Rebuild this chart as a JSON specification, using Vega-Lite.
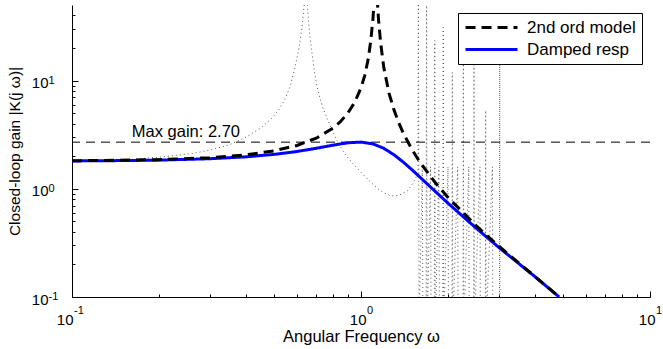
{
  "$schema": "https://vega.github.io/schema/vega-lite/v6.json",
  "width": 578,
  "height": 292,
  "autosize": {"type": "none"},
  "padding": {"left": 72, "top": 5, "right": 13, "bottom": 52},
  "background": "white",
  "config": {
    "view": {"stroke": null},
    "font": "Liberation Sans",
    "axis": {
      "grid": false,
      "domainColor": "black",
      "domainWidth": 1,
      "tickColor": "black",
      "labelFont": "Liberation Sans",
      "labelFontSize": 15,
      "labelColor": "black",
      "titleFont": "Liberation Sans",
      "titleFontSize": 15.5,
      "titleFontWeight": "normal",
      "titleColor": "black"
    },
    "legend": {
      "strokeColor": "black",
      "fillColor": "white",
      "padding": 6,
      "labelFont": "Liberation Sans",
      "labelFontSize": 17,
      "labelColor": "black",
      "symbolType": "stroke",
      "symbolStrokeWidth": 3,
      "symbolSize": 2700,
      "labelOffset": 8,
      "rowPadding": 4,
      "clipHeight": 17
    }
  },
  "datasets": {
    "curves": [
      {"series": "Damped resp", "w": 0.1, "k": 1.81},
      {"series": "Damped resp", "w": 0.15, "k": 1.824},
      {"series": "Damped resp", "w": 0.2, "k": 1.842},
      {"series": "Damped resp", "w": 0.3, "k": 1.897},
      {"series": "Damped resp", "w": 0.4, "k": 1.975},
      {"series": "Damped resp", "w": 0.5, "k": 2.081},
      {"series": "Damped resp", "w": 0.6, "k": 2.213},
      {"series": "Damped resp", "w": 0.7, "k": 2.369},
      {"series": "Damped resp", "w": 0.8, "k": 2.532},
      {"series": "Damped resp", "w": 0.9, "k": 2.663},
      {"series": "Damped resp", "w": 1.0, "k": 2.703},
      {"series": "Damped resp", "w": 1.1, "k": 2.6},
      {"series": "Damped resp", "w": 1.2, "k": 2.365},
      {"series": "Damped resp", "w": 1.3, "k": 2.065},
      {"series": "Damped resp", "w": 1.4, "k": 1.766},
      {"series": "Damped resp", "w": 1.5, "k": 1.502},
      {"series": "Damped resp", "w": 1.7, "k": 1.101},
      {"series": "Damped resp", "w": 2.0, "k": 0.736},
      {"series": "Damped resp", "w": 2.5, "k": 0.434},
      {"series": "Damped resp", "w": 3.0, "k": 0.287},
      {"series": "Damped resp", "w": 4.0, "k": 0.154},
      {"series": "Damped resp", "w": 4.85, "k": 0.1},
      {"series": "2nd ord model", "w": 0.1, "k": 1.814},
      {"series": "2nd ord model", "w": 0.2, "k": 1.859},
      {"series": "2nd ord model", "w": 0.3, "k": 1.938},
      {"series": "2nd ord model", "w": 0.4, "k": 2.06},
      {"series": "2nd ord model", "w": 0.5, "k": 2.243},
      {"series": "2nd ord model", "w": 0.6, "k": 2.515},
      {"series": "2nd ord model", "w": 0.7, "k": 2.937},
      {"series": "2nd ord model", "w": 0.8, "k": 3.641},
      {"series": "2nd ord model", "w": 0.85, "k": 4.195},
      {"series": "2nd ord model", "w": 0.9, "k": 5.0},
      {"series": "2nd ord model", "w": 0.95, "k": 6.274},
      {"series": "2nd ord model", "w": 1.0, "k": 8.576},
      {"series": "2nd ord model", "w": 1.03, "k": 11.13},
      {"series": "2nd ord model", "w": 1.06, "k": 16.04},
      {"series": "2nd ord model", "w": 1.08, "k": 22.96},
      {"series": "2nd ord model", "w": 1.1, "k": 37.4},
      {"series": "2nd ord model", "w": 1.125, "k": 90},
      {"series": "2nd ord model", "w": 1.15, "k": 36.5},
      {"series": "2nd ord model", "w": 1.17, "k": 22.06},
      {"series": "2nd ord model", "w": 1.2, "k": 13.06},
      {"series": "2nd ord model", "w": 1.25, "k": 7.672},
      {"series": "2nd ord model", "w": 1.3, "k": 5.368},
      {"series": "2nd ord model", "w": 1.35, "k": 4.091},
      {"series": "2nd ord model", "w": 1.4, "k": 3.281},
      {"series": "2nd ord model", "w": 1.5, "k": 2.314},
      {"series": "2nd ord model", "w": 1.6, "k": 1.76},
      {"series": "2nd ord model", "w": 1.8, "k": 1.154},
      {"series": "2nd ord model", "w": 2.0, "k": 0.833},
      {"series": "2nd ord model", "w": 2.5, "k": 0.457},
      {"series": "2nd ord model", "w": 3.0, "k": 0.2945},
      {"series": "2nd ord model", "w": 4.0, "k": 0.1546},
      {"series": "2nd ord model", "w": 4.85, "k": 0.1}
    ],
    "dotted": [
      {"w": 0.1, "k": 1.81}, {"w": 0.15, "k": 1.84}, {"w": 0.2, "k": 1.96},
      {"w": 0.261, "k": 2.12}, {"w": 0.3, "k": 2.28}, {"w": 0.35, "k": 2.55},
      {"w": 0.4, "k": 3.0}, {"w": 0.45, "k": 3.65}, {"w": 0.492, "k": 4.5},
      {"w": 0.52, "k": 5.4}, {"w": 0.547, "k": 6.8}, {"w": 0.57, "k": 9.0},
      {"w": 0.592, "k": 13.5}, {"w": 0.61, "k": 20}, {"w": 0.624, "k": 30},
      {"w": 0.636, "k": 50}, {"w": 0.645, "k": 90}, {"w": 0.654, "k": 45},
      {"w": 0.665, "k": 26}, {"w": 0.675, "k": 19}, {"w": 0.69, "k": 12},
      {"w": 0.702, "k": 9.3}, {"w": 0.72, "k": 7.0}, {"w": 0.74, "k": 5.5},
      {"w": 0.78, "k": 3.9}, {"w": 0.823, "k": 2.85}, {"w": 0.879, "k": 2.1},
      {"w": 0.94, "k": 1.7}, {"w": 1.0, "k": 1.42}, {"w": 1.07, "k": 1.18},
      {"w": 1.144, "k": 1.0}, {"w": 1.2, "k": 0.92}, {"w": 1.27, "k": 0.86},
      {"w": 1.35, "k": 0.87}, {"w": 1.45, "k": 0.96}, {"w": 1.52, "k": 1.15},
      {"w": 1.575, "k": 1.4}, {"w": 1.58, "k": 90}, {"w": 1.588, "k": 0.05},
      {"w": 1.63, "k": 1.6}, {"w": 1.638, "k": 0.05},
      {"w": 1.68, "k": 0.05}, {"w": 1.686, "k": 90}, {"w": 1.694, "k": 0.05},
      {"w": 1.74, "k": 1.6}, {"w": 1.748, "k": 0.05},
      {"w": 1.794, "k": 0.05}, {"w": 1.8, "k": 23.5}, {"w": 1.808, "k": 0.05},
      {"w": 1.86, "k": 1.6}, {"w": 1.868, "k": 0.05},
      {"w": 1.919, "k": 0.05}, {"w": 1.925, "k": 31}, {"w": 1.933, "k": 0.05},
      {"w": 2.0, "k": 1.6}, {"w": 2.008, "k": 0.05},
      {"w": 2.064, "k": 0.05}, {"w": 2.07, "k": 11.9}, {"w": 2.078, "k": 0.05},
      {"w": 2.16, "k": 1.6}, {"w": 2.168, "k": 0.05},
      {"w": 2.254, "k": 0.05}, {"w": 2.26, "k": 14.4}, {"w": 2.268, "k": 0.05},
      {"w": 2.36, "k": 1.6}, {"w": 2.368, "k": 0.05},
      {"w": 2.454, "k": 0.05}, {"w": 2.46, "k": 15.3}, {"w": 2.468, "k": 0.05},
      {"w": 2.58, "k": 1.6}, {"w": 2.588, "k": 0.05},
      {"w": 2.694, "k": 0.05}, {"w": 2.7, "k": 5.3}, {"w": 2.708, "k": 0.05},
      {"w": 2.85, "k": 1.6}, {"w": 2.858, "k": 0.05},
      {"w": 3.014, "k": 0.05}, {"w": 3.02, "k": 15.3}, {"w": 3.028, "k": 0.05}
    ],
    "ref": [{"gain": 2.7, "w": 0.161, "label": "Max gain: 2.70"}],
    "decades": [
      {"v": 0.1, "exp": "-1"},
      {"v": 1, "exp": "0"},
      {"v": 10, "exp": "1"}
    ]
  },
  "layer": [
    {
      "data": {"name": "dotted"},
      "mark": {"type": "line", "clip": true, "color": "#555", "strokeWidth": 1, "strokeDash": [1, 3]},
      "encoding": {
        "x": {"field": "w", "type": "quantitative", "scale": {"type": "log", "domain": [0.1, 10], "nice": false},
          "axis": {"title": "Angular Frequency ω", "titleFontSize": 16.5, "values": [0.1,0.2,0.3,0.4,0.5,0.6,0.7,0.8,0.9,1,2,3,4,5,6,7,8,9,10],
            "labelExpr": "datum.value == 0.1 || datum.value == 1 || datum.value == 10 ? '10' : ''",
            "labelAlign": "right", "labelBaseline": "top",
            "labelOffset": {"condition": {"test": "datum.value == 0.1", "value": 1}, "value": 5},
            "tickSize": {"condition": {"test": "datum.value == 0.1 || datum.value == 1 || datum.value == 10", "value": -6}, "value": -3},
            "labelPadding": 21,
            "titleY": 44, "titleBaseline": "alphabetic", "labelFlush": false, "labelOverlap": false}},
        "y": {"field": "k", "type": "quantitative", "scale": {"type": "log", "domain": [0.1, 50], "nice": false},
          "axis": {"title": "Closed-loop gain |K(j ω)|", "values": [0.1,0.2,0.3,0.4,0.5,0.6,0.7,0.8,0.9,1,2,3,4,5,6,7,8,9,10,20,30,40],
            "labelExpr": "datum.value == 0.1 || datum.value == 1 || datum.value == 10 ? '10' : ''",
            "labelAlign": "right", "labelBaseline": "middle", "labelOffset": 2,
            "tickSize": {"condition": {"test": "datum.value == 0.1 || datum.value == 1 || datum.value == 10", "value": -6}, "value": -3},
            "labelPadding": 30,
            "titlePadding": 9, "labelFlush": false, "labelOverlap": false}}
      }
    },
    {
      "data": {"name": "decades"},
      "transform": [{"filter": "datum.v == 0.1"}],
      "mark": {"type": "text", "align": "left", "baseline": "top", "dx": 2, "dy": 8, "fontSize": 11, "font": "Liberation Sans", "color": "black"},
      "encoding": {
        "x": {"field": "v", "type": "quantitative"},
        "y": {"datum": 0.1, "type": "quantitative"},
        "text": {"field": "exp"}
      }
    },
    {
      "data": {"name": "decades"},
      "transform": [{"filter": "datum.v != 0.1"}],
      "mark": {"type": "text", "align": "left", "baseline": "top", "dx": 6, "dy": 8, "fontSize": 11, "font": "Liberation Sans", "color": "black"},
      "encoding": {
        "x": {"field": "v", "type": "quantitative"},
        "y": {"datum": 0.1, "type": "quantitative"},
        "text": {"field": "exp"}
      }
    },
    {
      "data": {"name": "decades"},
      "mark": {"type": "text", "align": "left", "baseline": "top", "dx": -23.5, "dy": -6, "fontSize": 11, "font": "Liberation Sans", "color": "black"},
      "encoding": {
        "y": {"field": "v", "type": "quantitative"},
        "x": {"datum": 0.1, "type": "quantitative"},
        "text": {"field": "exp"}
      }
    },
    {
      "data": {"name": "ref"},
      "mark": {"type": "rule", "color": "black", "strokeWidth": 1, "strokeDash": [9, 6]},
      "encoding": {"y": {"field": "gain", "type": "quantitative"}}
    },
    {
      "data": {"name": "ref"},
      "mark": {"type": "text", "align": "left", "baseline": "alphabetic", "dy": -5, "fontSize": 16.5, "font": "Liberation Sans", "color": "black"},
      "encoding": {
        "x": {"field": "w", "type": "quantitative"},
        "y": {"field": "gain", "type": "quantitative"},
        "text": {"field": "label"}
      }
    },
    {
      "data": {"name": "curves"},
      "transform": [{"filter": "datum.series == 'Damped resp'"}],
      "mark": {"type": "line", "clip": true, "strokeWidth": 3},
      "encoding": {
        "x": {"field": "w", "type": "quantitative"},
        "y": {"field": "k", "type": "quantitative"},
        "color": {"field": "series", "type": "nominal", "scale": {"domain": ["2nd ord model", "Damped resp"], "range": ["black", "#0000ff"]},
          "legend": {"title": null, "orient": "none", "legendX": 386, "legendY": 8}},
        "strokeDash": {"field": "series", "type": "nominal", "scale": {"domain": ["2nd ord model", "Damped resp"], "range": [[10, 6], [1, 0]]},
          "legend": {"title": null, "orient": "none", "legendX": 386, "legendY": 8}}
      }
    },
    {
      "data": {"name": "curves"},
      "transform": [{"filter": "datum.series == '2nd ord model'"}],
      "mark": {"type": "line", "clip": true, "strokeWidth": 3},
      "encoding": {
        "x": {"field": "w", "type": "quantitative"},
        "y": {"field": "k", "type": "quantitative"},
        "color": {"field": "series", "type": "nominal"},
        "strokeDash": {"field": "series", "type": "nominal"}
      }
    }
  ]
}
